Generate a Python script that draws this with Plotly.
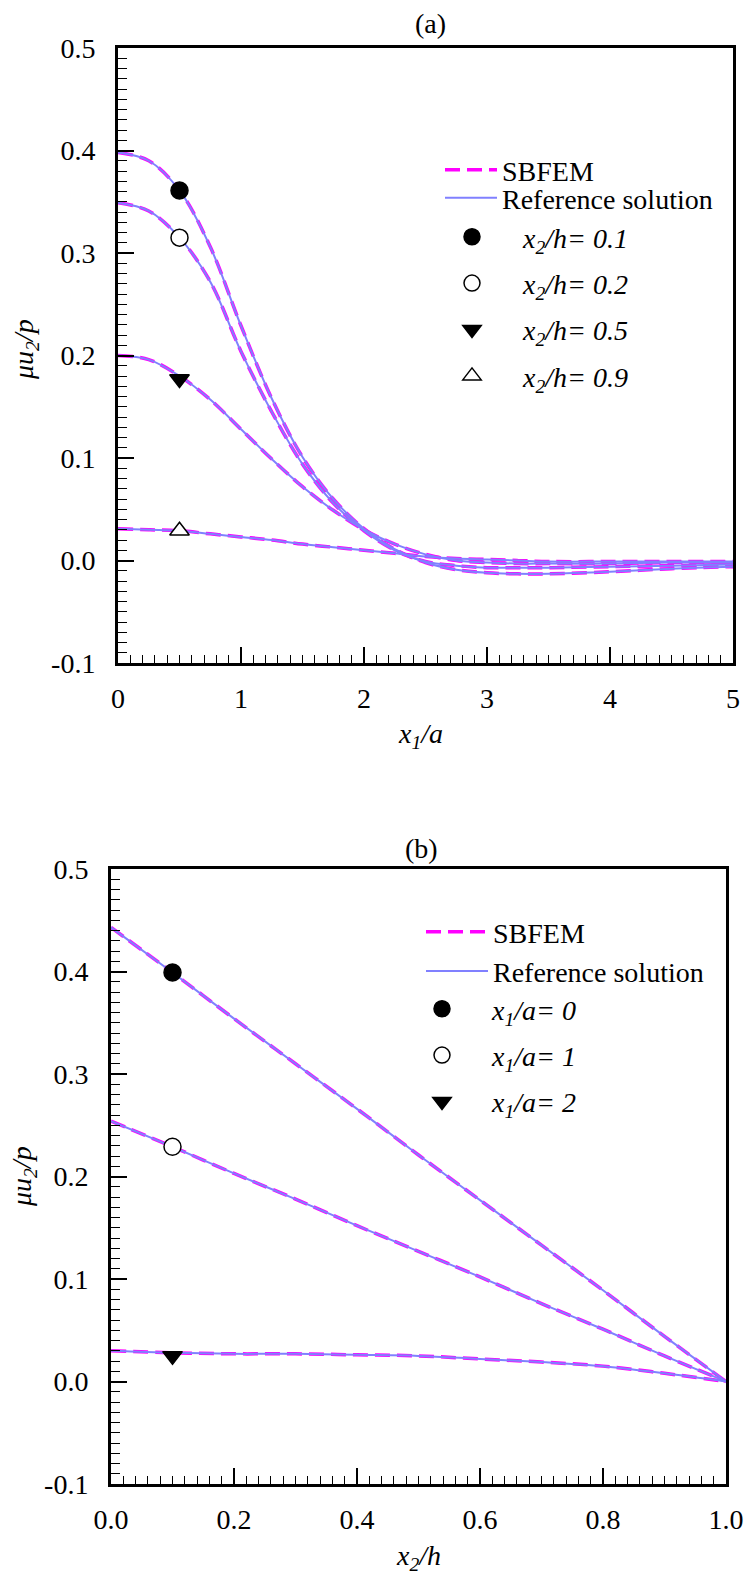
import plotly.graph_objects as go

W, H = 747, 1579
FONT = "'Liberation Serif', 'Times New Roman', Times, serif"

# ---------------- Panel (a): mu*u2/p vs x1/a ----------------
xa = [0, 0.25, 0.5, 0.75, 1.0, 1.25, 1.5, 1.75, 2.0, 2.25, 2.5, 2.75, 3.0, 3.25, 3.5, 4.0, 4.5, 5.0]
ua_h01 = [0.398, 0.390, 0.361, 0.306, 0.229, 0.158, 0.101, 0.060, 0.031, 0.011, -0.002, -0.009, -0.012, -0.013, -0.013, -0.011, -0.008, -0.006]
ua_h02 = [0.349, 0.341, 0.315, 0.272, 0.204, 0.145, 0.094, 0.056, 0.029, 0.010, -0.001, -0.005, -0.007, -0.007, -0.007, -0.006, -0.005, -0.004]
ua_h05 = [0.200, 0.196, 0.180, 0.157, 0.128, 0.099, 0.072, 0.049, 0.030, 0.016, 0.006, 0.000, -0.002, -0.003, -0.003, -0.003, -0.002, -0.002]
ua_h09 = [0.031, 0.030, 0.029, 0.026, 0.023, 0.020, 0.016, 0.013, 0.010, 0.007, 0.004, 0.002, 0.001, 0.000, -0.001, -0.001, -0.001, -0.001]
curves_a = [ua_h01, ua_h02, ua_h05, ua_h09]
labels_a = ["<i>x</i><sub><i>2</i></sub><i>/h= 0.1</i>", "<i>x</i><sub><i>2</i></sub><i>/h= 0.2</i>",
            "<i>x</i><sub><i>2</i></sub><i>/h= 0.5</i>", "<i>x</i><sub><i>2</i></sub><i>/h= 0.9</i>"]
mark_x_a = [0.5, 0.5, 0.5, 0.5]
mark_y_a = [0.361, 0.315, 0.177, 0.029]

xticks_a = [0, 1, 2, 3, 4, 5]
xticktext_a = ["0", "1", "2", "3", "4", "5"]

# ---------------- Panel (b): mu*u2/p vs x2/h ----------------
xb = [0.0, 0.1, 0.2, 0.3, 0.4, 0.5, 0.6, 0.7, 0.8, 0.9, 1.0]
ub_a0 = [0.443, 0.399, 0.354, 0.310, 0.266, 0.221, 0.177, 0.133, 0.089, 0.044, 0.0]
ub_a1 = [0.254, 0.229, 0.203, 0.178, 0.152, 0.127, 0.102, 0.076, 0.051, 0.025, 0.0]
ub_a2 = [0.030, 0.028, 0.027, 0.027, 0.026, 0.025, 0.022, 0.019, 0.015, 0.008, 0.0]
curves_b = [ub_a0, ub_a1, ub_a2]
labels_b = ["<i>x</i><sub><i>1</i></sub><i>/a= 0</i>", "<i>x</i><sub><i>1</i></sub><i>/a= 1</i>",
            "<i>x</i><sub><i>1</i></sub><i>/a= 2</i>"]
mark_x_b = [0.1, 0.1, 0.1]
mark_y_b = [0.399, 0.229, 0.025]

xticks_b = [0.0, 0.2, 0.4, 0.6, 0.8, 1.0]
xticktext_b = ["0.0", "0.2", "0.4", "0.6", "0.8", "1.0"]

yticks = [-0.1, 0.0, 0.1, 0.2, 0.3, 0.4, 0.5]
yticktext = ["-0.1", "0.0", "0.1", "0.2", "0.3", "0.4", "0.5"]

marker_styles = [
    dict(symbol="circle", color="black", size=17, line=dict(color="black", width=1.5)),
    dict(symbol="circle", color="white", size=17, line=dict(color="black", width=1.5)),
    dict(symbol="triangle-down", color="black", size=17, line=dict(color="black", width=1.5)),
    dict(symbol="triangle-up", color="white", size=17, line=dict(color="black", width=1.5)),
]

SB_COLOR = "#FF00FF"
REF_COLOR = "#8080FF"

fig = go.Figure()


def add_panel(xv, curves, mx, my, labels, xa_name, ya_name, leg_sb, leg_ref, leg_marks):
    for i, c in enumerate(curves):
        fig.add_trace(go.Scatter(x=xv, y=c, mode="lines", xaxis=xa_name, yaxis=ya_name,
                                 line=dict(color=SB_COLOR, width=3.5, dash="15px,7px", shape="spline"),
                                 name="SBFEM", showlegend=(i == 0), legend=leg_sb))
    for i, c in enumerate(curves):
        fig.add_trace(go.Scatter(x=xv, y=c, mode="lines", xaxis=xa_name, yaxis=ya_name,
                                 line=dict(color=REF_COLOR, width=2, shape="spline"),
                                 name="Reference solution", showlegend=(i == 0), legend=leg_ref))
    for i in range(len(curves)):
        fig.add_trace(go.Scatter(x=[mx[i]], y=[my[i]], mode="markers", xaxis=xa_name, yaxis=ya_name,
                                 marker=marker_styles[i], name=labels[i], legend=leg_marks,
                                 legendgroup="g%s%d" % (xa_name, i), cliponaxis=False))


add_panel(xa, curves_a, mark_x_a, mark_y_a, labels_a, "x", "y", "legend", "legend5", "legend2")
add_panel(xb, curves_b, mark_x_b, mark_y_b, labels_b, "x2", "y2", "legend3", "legend3", "legend4")

tickfont = dict(family=FONT, size=28, color="black")


def xax(domain, rng, tv, tt, minor_dtick, anchor):
    return dict(domain=domain, range=rng, anchor=anchor, tickmode="array", tickvals=tv, ticktext=tt,
                automargin=False,
                showgrid=False, zeroline=False, showline=True, linecolor="black", linewidth=3,
                mirror=True, ticks="inside", ticklen=16, tickwidth=1.5, tickcolor="black",
                tickfont=tickfont, ticklabelstandoff=8,
                minor=dict(ticks="inside", ticklen=8, tickwidth=1.2, tickcolor="black",
                           dtick=minor_dtick, tick0=0, showgrid=False))


def yax(domain, anchor):
    return dict(domain=domain, range=[-0.1, 0.5], anchor=anchor, tickmode="array", tickvals=yticks,
                ticktext=yticktext, automargin=False,
                showgrid=False, zeroline=False, showline=True, linecolor="black",
                linewidth=3, mirror=True, ticks="inside", ticklen=16, tickwidth=1.5, tickcolor="black",
                tickfont=tickfont, ticklabelstandoff=14,
                minor=dict(ticks="inside", ticklen=9, tickwidth=1.2, tickcolor="black",
                           dtick=0.01, tick0=0, showgrid=False))


def px(v):
    return v / W


def py(v):
    return 1 - v / H


# pixel frame of panels
A_L, A_R, A_T, A_B = 118, 733, 48, 663
B_L, B_R, B_T, B_B = 111, 726, 869, 1484

legfont = dict(family=FONT, size=28, color="black")


def leg(x, y, iw, gap=0):
    return dict(x=px(x), y=py(y), xanchor="left", yanchor="top", font=legfont,
                bgcolor="rgba(0,0,0,0)", itemwidth=iw, tracegroupgap=gap)


fig.update_layout(
    template="none",
    font=dict(family=FONT, size=28, color="black"),
    width=W, height=H, margin=dict(l=0, r=0, t=0, b=0, pad=0, autoexpand=False),
    paper_bgcolor="white", plot_bgcolor="white",
    xaxis=xax([px(A_L), px(A_R)], [0, 5], xticks_a, xticktext_a, 0.1, "y"),
    yaxis=yax([py(A_B), py(A_T)], "x"),
    xaxis2=xax([px(B_L), px(B_R)], [0, 1], xticks_b, xticktext_b, 0.02, "y2"),
    yaxis2=yax([py(B_B), py(B_T)], "x2"),
    legend=leg(440, 145, 52),
    legend5=leg(440, 173, 52),
    legend2=leg(421, 212, 92, 7),
    legend3=leg(421, 907, 62),
    legend4=leg(392, 984, 90, 7),
    annotations=[
        dict(text="(a)", x=px(430), y=py(24), xref="paper", yref="paper", showarrow=False,
             font=dict(family=FONT, size=28, color="black"), xanchor="center", yanchor="middle"),
        dict(text="(b)", x=px(421), y=py(848), xref="paper", yref="paper", showarrow=False,
             font=dict(family=FONT, size=28, color="black"), xanchor="center", yanchor="middle"),
        dict(text="<i>x</i><sub><i>1</i></sub><i>/a</i>", x=px(420), y=py(735), xref="paper", yref="paper",
             showarrow=False, font=dict(family=FONT, size=28, color="black"), xanchor="center", yanchor="middle"),
        dict(text="<i>x</i><sub><i>2</i></sub><i>/h</i>", x=px(418), y=py(1557), xref="paper", yref="paper",
             showarrow=False, font=dict(family=FONT, size=28, color="black"), xanchor="center", yanchor="middle"),
        dict(text="<i>μu</i><sub><i>2</i></sub><i>/p</i>", x=px(26), y=py(350), xref="paper", yref="paper",
             showarrow=False, textangle=-90, font=dict(family=FONT, size=28, color="black"),
             xanchor="center", yanchor="middle"),
        dict(text="<i>μu</i><sub><i>2</i></sub><i>/p</i>", x=px(23), y=py(1177), xref="paper", yref="paper",
             showarrow=False, textangle=-90, font=dict(family=FONT, size=28, color="black"),
             xanchor="center", yanchor="middle"),
    ],
)

fig.write_html("out.html")
